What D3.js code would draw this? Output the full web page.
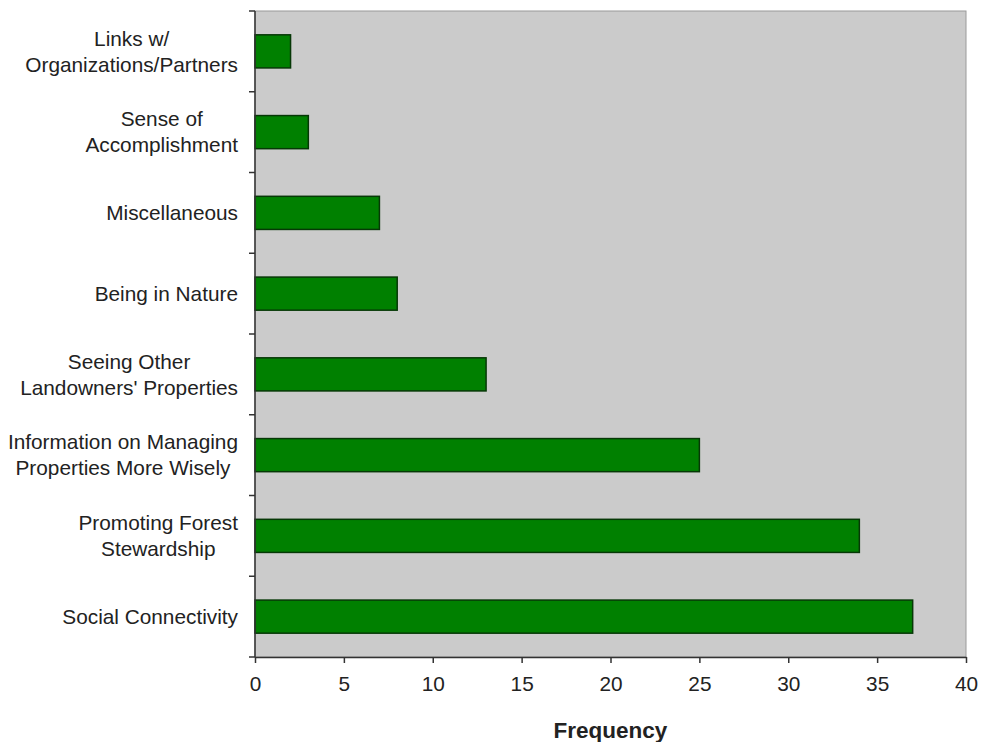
<!DOCTYPE html>
<html>
<head>
<meta charset="utf-8">
<script src="https://cdn.jsdelivr.net/npm/d3@7"></script>
<style>
  html, body { margin: 0; padding: 0; background: #ffffff; }
  svg { display: block; font-family: "Liberation Sans", Arial, sans-serif; }
</style>
</head>
<body>
<svg id="chart" width="981" height="742"></svg>
<script>
// Reasons given by participants, top to bottom
const categories = [
  ["Links w/", "Organizations/Partners"],
  ["Sense of", "Accomplishment"],
  ["Miscellaneous"],
  ["Being in Nature"],
  ["Seeing Other", "Landowners' Properties"],
  ["Information on Managing", "Properties More Wisely"],
  ["Promoting Forest", "Stewardship"],
  ["Social Connectivity"]
];
const frequencies = [2, 3, 7, 8, 13, 25, 34, 37];
const xTicks = [0, 5, 10, 15, 20, 25, 30, 35, 40];
const xTitle = "Frequency";

const svg = d3.select("#chart");
const plot = { left: 255, top: 11, right: 966, bottom: 657 };
const textColor = "#222";
const fontSize = 20.8;

const keys = categories.map((c, i) => i);
const x = d3.scaleLinear().domain([0, 40]).range([plot.left, plot.right]);
const y = d3.scaleBand().domain(keys).range([plot.top, plot.bottom]).paddingInner(0).paddingOuter(0);

// plot background
svg.append("rect")
  .attr("x", plot.left).attr("y", plot.top)
  .attr("width", plot.right - plot.left).attr("height", plot.bottom - plot.top)
  .attr("fill", "#cbcbcb")
  .attr("stroke", "#9a9a9a").attr("stroke-width", 1);

// bars
const barH = y.bandwidth() * 0.41;
svg.append("g").selectAll("rect")
  .data(frequencies)
  .join("rect")
  .attr("x", x(0))
  .attr("y", (d, i) => y(i) + (y.bandwidth() - barH) / 2)
  .attr("width", d => x(d) - x(0))
  .attr("height", barH)
  .attr("fill", "#008000")
  .attr("stroke", "#063806")
  .attr("stroke-width", 1.5);

// x axis
const xAxis = svg.append("g")
  .attr("transform", `translate(0,${plot.bottom})`)
  .call(d3.axisBottom(x).tickValues(xTicks).tickSize(6).tickSizeOuter(0).tickPadding(13));
xAxis.select(".domain").attr("stroke", "#333").attr("stroke-width", 1.5);
xAxis.selectAll(".tick line").attr("stroke", "#333").attr("stroke-width", 1.5);
xAxis.selectAll(".tick text")
  .attr("font-size", fontSize).attr("fill", textColor)
  .attr("font-family", "Liberation Sans, Arial, sans-serif");

// y axis line with ticks at category boundaries
const yg = svg.append("g");
yg.append("line")
  .attr("x1", plot.left).attr("x2", plot.left)
  .attr("y1", plot.top).attr("y2", plot.bottom)
  .attr("stroke", "#333").attr("stroke-width", 1.5);
const boundaries = keys.map(k => y(k)).concat([plot.bottom]);
yg.selectAll("line.tick")
  .data(boundaries)
  .join("line")
  .attr("class", "tick")
  .attr("x1", plot.left - 6).attr("x2", plot.left)
  .attr("y1", d => d).attr("y2", d => d)
  .attr("stroke", "#333").attr("stroke-width", 1.5);

// category labels: lines centred on each other, block right-aligned to the axis
const lineGap = 26;
const labelRight = plot.left - 17;
const labels = svg.append("g")
  .attr("font-size", fontSize).attr("fill", textColor).attr("text-anchor", "middle");
categories.forEach((lines, i) => {
  const cy = y(i) + y.bandwidth() / 2;
  const t = labels.append("text");
  const spans = lines.map((ln, j) => t.append("tspan")
    .attr("y", cy + (j - (lines.length - 1) / 2) * lineGap)
    .attr("dy", "0.35em")
    .text(ln));
  const maxW = d3.max(spans, s => s.node().getComputedTextLength());
  spans.forEach(s => s.attr("x", labelRight - maxW / 2));
});

// axis title
svg.append("text")
  .attr("x", (plot.left + plot.right) / 2)
  .attr("y", 730)
  .attr("dy", "0.35em")
  .attr("text-anchor", "middle")
  .attr("font-size", 22.5).attr("font-weight", "bold").attr("fill", textColor)
  .text(xTitle);
</script>
</body>
</html>
